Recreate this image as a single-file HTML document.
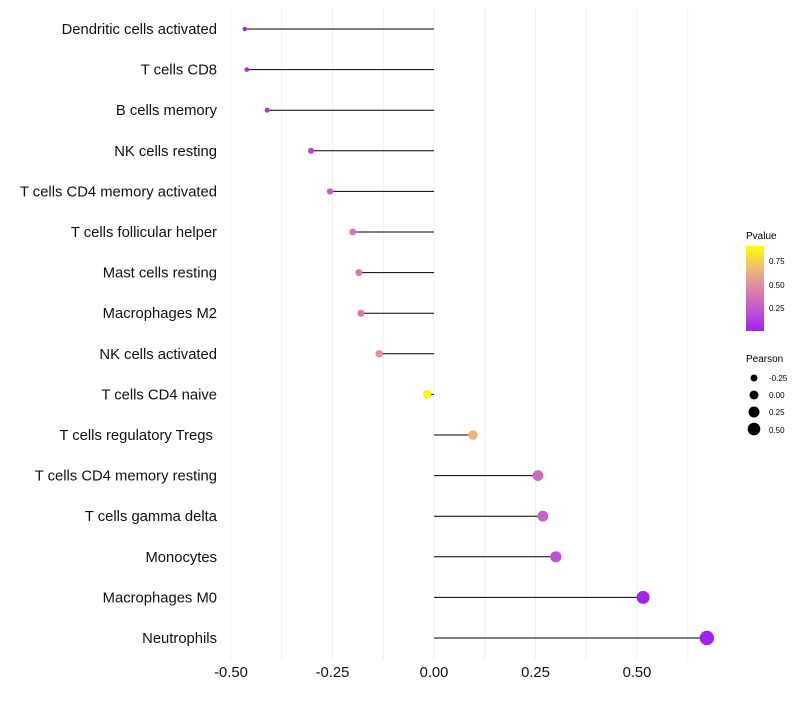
<!DOCTYPE html>
<html><head><meta charset="utf-8"><style>
body{margin:0;background:#fff;font-family:"Liberation Sans",sans-serif;}
</style></head><body>
<svg id="chart" width="800" height="700" xmlns="http://www.w3.org/2000/svg">
<defs><linearGradient id="pg" x1="0" y1="1" x2="0" y2="0">
<stop offset="0" stop-color="#A020F0"/><stop offset="0.25" stop-color="#C257CF"/><stop offset="0.5" stop-color="#DC86A6"/><stop offset="0.75" stop-color="#F0BD6E"/><stop offset="1" stop-color="#FFFF00"/></linearGradient></defs>
<g id="grid"></g><g id="marks"></g><g id="ylabels"></g><g id="xlabels"></g>
<g>
<text x="746" y="239" font-size="10">Pvalue</text>
<rect x="746" y="246" width="18" height="85" fill="url(#pg)"/>
<text x="769" y="264" font-size="8">0.75</text>
<text x="769" y="288" font-size="8">0.50</text>
<text x="769" y="311" font-size="8">0.25</text>
</g>
<g>
<text x="746" y="362" font-size="10">Pearson</text>
<circle cx="754" cy="378" r="3.5" fill="#000"/><text x="769" y="381" font-size="8">-0.25</text>
<circle cx="754" cy="395" r="4.5" fill="#000"/><text x="769" y="398" font-size="8">0.00</text>
<circle cx="754" cy="412" r="5.5" fill="#000"/><text x="769" y="415" font-size="8">0.25</text>
<circle cx="754" cy="429" r="6.3" fill="#000"/><text x="769" y="433" font-size="8">0.50</text>
</g>
</svg>
<script>
const categories=["Dendritic cells activated","T cells CD8","B cells memory","NK cells resting","T cells CD4 memory activated","T cells follicular helper","Mast cells resting","Macrophages M2","NK cells activated","T cells CD4 naive","T cells regulatory  Tregs\u00a0","T cells CD4 memory resting","T cells gamma delta","Monocytes","Macrophages M0","Neutrophils"];
const pearson=[-0.466,-0.461,-0.411,-0.303,-0.256,-0.2,-0.185,-0.18,-0.135,-0.017,0.096,0.256,0.268,0.30,0.515,0.672];
const pvalue=[0.04,0.05,0.1,0.15,0.3,0.42,0.45,0.45,0.55,0.97,0.7,0.35,0.3,0.22,0.02,0.01];
const ticks=[-0.5,-0.25,0,0.25,0.5];
const tickLabels=["-0.50","-0.25","0.00","0.25","0.50"];
const NS="http://www.w3.org/2000/svg";
const x=v=>434+v*406;
const y=i=>29+i*40.6;
const stops=[[0,[160,32,240]],[0.25,[194,87,207]],[0.5,[220,134,166]],[0.75,[240,189,110]],[1,[255,255,0]]];
function col(p){for(let k=1;k<stops.length;k++){if(p<=stops[k][0]){const a=stops[k-1],b=stops[k],t=(p-a[0])/(b[0]-a[0]);return "rgb("+a[1].map((c,j)=>Math.round(c+(b[1][j]-c)*t)).join(",")+")";}}return "rgb(255,255,0)";}
function mk(t,a,parent){const e=document.createElementNS(NS,t);for(const k in a)e.setAttribute(k,a[k]);document.getElementById(parent).appendChild(e);return e;}
for(let v=-0.5;v<=0.7;v+=0.125){const g=mk("line",{x1:x(v),x2:x(v),y1:8,y2:660,stroke:"#f0f0f0","stroke-width":1},"grid");

}
categories.forEach((c,i)=>{
const l=mk("line",{x1:x(0),x2:x(pearson[i]),y1:y(i),y2:y(i),stroke:"#000","stroke-width":1},"marks");


const r=Math.max(2,4.3+pearson[i]*4.3);
const p=mk("circle",{cx:x(pearson[i]),cy:y(i),r:r,fill:col(pvalue[i])},"marks");


const t=mk("text",{x:217,y:y(i)+5,"text-anchor":"end","font-size":14.8,fill:"#111"},"ylabels");t.textContent=c;


});
ticks.forEach((v,i)=>{const t=mk("text",{x:x(v),y:677,"text-anchor":"middle","font-size":14.8,fill:"#111"},"xlabels");t.textContent=tickLabels[i];

});
</script>
</body></html>
